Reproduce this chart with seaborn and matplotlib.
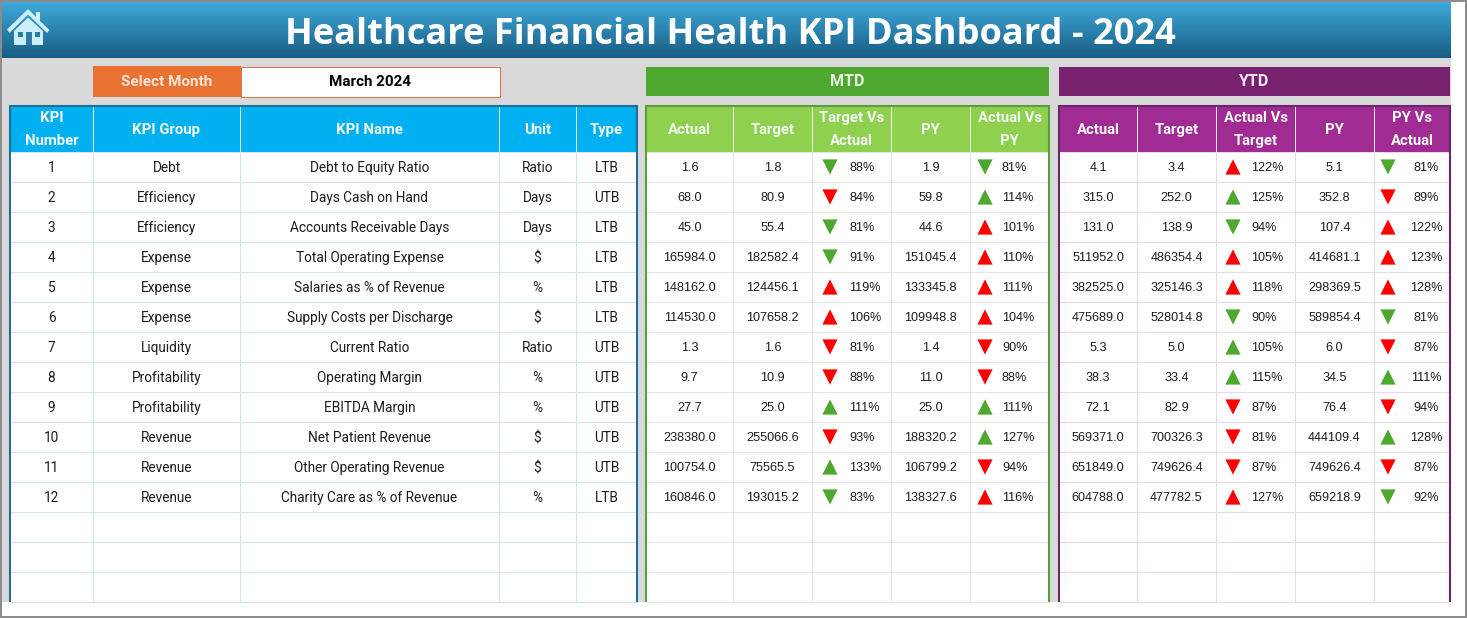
import numpy as np
import pandas as pd
import matplotlib
matplotlib.use("Agg")
import matplotlib.pyplot as plt
from matplotlib.patches import Rectangle, Polygon
import seaborn as sns

# ---------- data ----------
kpi_number = list(range(1, 13))
kpi_group = ["Debt", "Efficiency", "Efficiency", "Expense", "Expense", "Expense", "Liquidity",
             "Profitability", "Profitability", "Revenue", "Revenue", "Revenue"]
kpi_name = ["Debt to Equity Ratio", "Days Cash on Hand", "Accounts Receivable Days", "Total Operating Expense",
            "Salaries as % of Revenue", "Supply Costs per Discharge", "Current Ratio", "Operating Margin",
            "EBITDA Margin", "Net Patient Revenue", "Other Operating Revenue", "Charity Care as % of Revenue"]
kpi_unit = ["Ratio", "Days", "Days", "$", "%", "$", "Ratio", "%", "%", "$", "$", "%"]
kpi_type = ["LTB", "UTB", "LTB", "LTB", "LTB", "LTB", "UTB", "UTB", "UTB", "UTB", "UTB", "LTB"]

mtd_actual = [1.6, 68.0, 45.0, 165984.0, 148162.0, 114530.0, 1.3, 9.7, 27.7, 238380.0, 100754.0, 160846.0]
mtd_target = [1.8, 80.9, 55.4, 182582.4, 124456.1, 107658.2, 1.6, 10.9, 25.0, 255066.6, 75565.5, 193015.2]
mtd_tva = [88, 84, 81, 91, 119, 106, 81, 88, 111, 93, 133, 83]
mtd_py = [1.9, 59.8, 44.6, 151045.4, 133345.8, 109948.8, 1.4, 11.0, 25.0, 188320.2, 106799.2, 138327.6]
mtd_avp = [81, 114, 101, 110, 111, 104, 90, 88, 111, 127, 94, 116]

ytd_actual = [4.1, 315.0, 131.0, 511952.0, 382525.0, 475689.0, 5.3, 38.3, 72.1, 569371.0, 651849.0, 604788.0]
ytd_target = [3.4, 252.0, 138.9, 486354.4, 325146.3, 528014.8, 5.0, 33.4, 82.9, 700326.3, 749626.4, 477782.5]
ytd_avt = [122, 125, 94, 105, 118, 90, 105, 115, 87, 81, 87, 127]
ytd_py = [5.1, 352.8, 107.4, 414681.1, 298369.5, 589854.4, 6.0, 34.5, 76.4, 444109.4, 749626.4, 659218.9]
ytd_pva = [81, 89, 122, 123, 128, 81, 87, 111, 94, 128, 87, 92]

title = "Healthcare Financial Health KPI Dashboard - 2024"
left_heads = ["KPI\nNumber", "KPI Group", "KPI Name", "Unit", "Type"]
mtd_heads = ["Actual", "Target", "Target Vs\nActual", "PY", "Actual Vs\nPY"]
ytd_heads = ["Actual", "Target", "Actual Vs\nTarget", "PY", "PY Vs\nActual"]

# ---------- layout (pixels) ----------
W, H = 1467, 618
left_x = [10, 93, 240, 499, 576, 637]
mtd_x = [646, 733, 812, 891, 970, 1049]
ytd_x = [1059, 1137, 1216, 1295, 1374, 1450]
HEAD_TOP, HEAD_BOT, ROW_H, N_ROWS = 106, 151.5, 30, 15
TOP_ROW = 152
BOTTOM = 602
TEXT_DY = 1.3

sns.set_theme(style="white")
LABEL = ["Liberation Sans Narrow", "Roboto", "DejaVu Sans"]
NUM = ["Liberation Sans", "DejaVu Sans"]
HEAD = ["Roboto", "DejaVu Sans"]

fig = plt.figure(figsize=(W / 100, H / 100), dpi=100, facecolor="white")
ax = fig.add_axes([0, 0, 1, 1])
ax.set_xlim(0, W)
ax.set_ylim(H, 0)
ax.axis("off")


def box(x0, y0, x1, y1, fc, ec="none", lw=0, z=1):
    ax.add_patch(Rectangle((x0, y0), x1 - x0, y1 - y0, facecolor=fc, edgecolor=ec, linewidth=lw, zorder=z))


# backdrop and frame
box(0, 0, W, H, "#ffffff", z=0)
box(2, 58, 1451, BOTTOM, "#d9d9d9", z=0.5)
grad = np.linspace(0, 1, 256).reshape(-1, 1)
top_c, bot_c = np.array([0x3f, 0xaa, 0xdb]) / 255, np.array([0x17, 0x5c, 0x82]) / 255
img = (top_c[None, None, :] * (1 - grad[..., None]) + bot_c[None, None, :] * grad[..., None])
ax.imshow(img, extent=(2, 1451, 58, 2), aspect="auto", zorder=1)
ax.set_xlim(0, W)
ax.set_ylim(H, 0)
for r in [(0, 0, W, 2), (0, 615.5, W, H), (0, 0, 2, H), (1465, 0, W, H)]:
    box(*r, "#8c8c8c", z=5)

# home icon
ICON = "#cdeefb"
ax.add_patch(Polygon([(7, 29.5), (28, 9), (36, 17), (36, 12), (40, 12), (40, 21), (49.5, 30), (47, 33),
                      (28, 14.5), (9.5, 33)], closed=True, fc=ICON, ec="none", zorder=3))
ax.add_patch(Polygon([(14, 31), (28, 17.5), (43, 31), (43, 45), (14, 45)], closed=True, fc=ICON, ec="none", zorder=3))
for r in [(18, 32, 23, 37), (35, 32, 40, 37), (26, 32, 32, 45)]:
    box(*r, "#2a7ba5", z=4)

ax.text(730, 35.5, title, color="white", fontsize=26.1, fontweight="bold", family=["Open Sans", "DejaVu Sans"],
        ha="center", va="center", zorder=6)

# selector + band headers
box(93, 66, 241, 97, "#e97132", z=2)
box(241, 66.5, 499.5, 96.5, "white", ec="#d9774a", lw=0.75, z=2)
ax.text(167, 82, "Select Month", color="#fbe5d6", fontsize=11, fontweight="bold", family=HEAD, ha="center", va="center", zorder=6)
ax.text(370, 82, "March 2024", color="black", fontsize=10.9, fontweight="bold", family=HEAD, ha="center", va="center", zorder=6)
box(646, 67, 1049, 96, "#4ea72e", z=2)
ax.text(847.5, 81.5, "MTD", color="#e8f5e0", fontsize=11.5, fontweight="bold", family=HEAD, ha="center", va="center", zorder=6)
box(1059, 67, 1450, 96, "#78226f", z=2)
ax.text(1254.5, 81.5, "YTD", color="#f5e6f4", fontsize=11.5, fontweight="bold", family=HEAD, ha="center", va="center", zorder=6)


def table(xs, heads, head_col, border, grid):
    x0, x1 = xs[0], xs[-1]
    box(x0, HEAD_TOP, x1, BOTTOM, "white", z=1)
    for i in range(N_ROWS + 1):
        y = TOP_ROW + i * ROW_H
        ax.plot([x0, x1], [y, y], color=grid, lw=0.75, zorder=2, solid_capstyle="butt")
    for x in xs[1:-1]:
        ax.plot([x, x], [HEAD_BOT, BOTTOM], color=grid, lw=0.75, zorder=2, solid_capstyle="butt")
    box(x0, HEAD_TOP, x1, HEAD_BOT, head_col, z=3)
    for x in xs[1:-1]:
        ax.plot([x, x], [HEAD_TOP, HEAD_BOT], color="#eef6fb", lw=0.7, zorder=4, solid_capstyle="butt")
    ax.plot([x0, x0, x1, x1], [BOTTOM, HEAD_TOP, HEAD_TOP, BOTTOM], color=border, lw=1.5, zorder=5,
            solid_joinstyle="miter", solid_capstyle="butt")
    for a, b, h in zip(xs[:-1], xs[1:], heads):
        ax.text((a + b) / 2, (HEAD_TOP + HEAD_BOT) / 2 + 1, h, color="#f2f8f2", fontsize=10.7, fontweight="bold",
                family=HEAD, ha="center", va="center", linespacing=1.83, zorder=6)


table(left_x, left_heads, "#00b0f0", "#1f6f97", "#cfe6f0")
table(mtd_x, mtd_heads, "#8fd14f", "#5b9e3c", "#dfe8da")
table(ytd_x, ytd_heads, "#a02b93", "#67286b", "#ecd8ec")


def row_y(i):
    return TOP_ROW + ROW_H * i + ROW_H / 2


def cell(x, i, s, fam=NUM, size=9.1, ha="center"):
    ax.text(x, row_y(i) + TEXT_DY, s, color="#1c1c1c", fontsize=size, family=fam, ha=ha, va="center", zorder=6)


centers = [(a + b) / 2 for a, b in zip(left_x[:-1], left_x[1:])]
for col, vals in zip(centers, [kpi_number, kpi_group, kpi_name, kpi_unit, kpi_type]):
    for i, v in enumerate(vals):
        cell(col, i, str(v), fam=LABEL, size=9.8)

for xs, cols in [(mtd_x, (mtd_actual, mtd_target, None, mtd_py, None)),
                 (ytd_x, (ytd_actual, ytd_target, None, ytd_py, None))]:
    for k, vals in enumerate(cols):
        if vals is None:
            continue
        for i, v in enumerate(vals):
            cell((xs[k] + xs[k + 1]) / 2, i, f"{v:.1f}")

# percentage columns and status arrows
pct_cols = [(mtd_tva, 830, 849, "left"), (mtd_avp, 985, 1002, "left"),
            (ytd_avt, 1233, 1251, "left"), (ytd_pva, 1388, 1426, "center")]
rows = []
for vals, ax_x, tx, ha in pct_cols:
    for i, v in enumerate(vals):
        cell(tx, i, f"{v}%", ha=ha)
        up = v >= 100
        good = (kpi_type[i] == "UTB") == up
        rows.append({"x": ax_x, "y": row_y(i), "dir": "up" if up else "down", "status": "good" if good else "bad"})
arrows = pd.DataFrame(rows)
sns.scatterplot(data=arrows, x="x", y="y", hue="status", style="dir",
                palette={"good": "#4ea72e", "bad": "#ff0000"}, markers={"up": "^", "down": "v"},
                s=120, linewidth=0, legend=False, ax=ax, zorder=6)
ax.set_xlim(0, W)
ax.set_ylim(H, 0)
ax.axis("off")

fig.savefig("out.png", dpi=100)
